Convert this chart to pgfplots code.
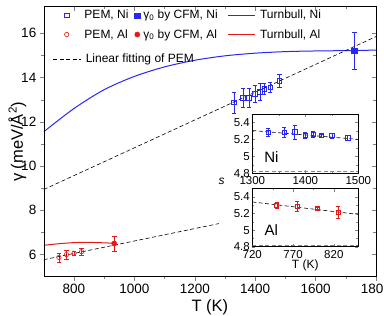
\documentclass[border=0pt]{standalone}
\usepackage{fontspec}
\setmainfont{Liberation Sans}
\usepackage{pgfplots}
\pgfplotsset{compat=1.18}

\definecolor{niblue}{RGB}{40,40,240}
\definecolor{alred}{RGB}{230,25,25}
\definecolor{refor}{RGB}{225,105,45}

\newcommand{\gap}[1]{\rule{#1}{0pt}}

\pgfplotsset{
  every axis/.append style={
    /pgf/number format/assume math mode=true,
    /pgf/number format/1000 sep={},
  },
  fitline/.style={black, line width=0.6pt, dash pattern=on 4pt off 2.5pt},
  curve/.style={line width=1pt},
}

% Turnbull estimates
\pgfplotstableread{
T     g
700   11.55
800   12.60
900   13.45
1000  14.05
1100  14.48
1200  14.78
1300  14.98
1400  15.10
1500  15.17
1600  15.20
1728  15.22
1800  15.24
}\turnNi
\pgfplotstableread{
T    g
700  6.42
750  6.49
800  6.54
850  6.55
900  6.53
933  6.51
}\turnAl
% PEM values in the main panel
\pgfplotstableread{
T     g      e
1330  12.88  0.47
1360  13.09  0.42
1380  13.09  0.44
1400  13.27  0.39
1415  13.36  0.37
1430  13.49  0.26
1450  13.56  0.23
1480  13.86  0.29
}\pemNi
\pgfplotstableread{
T    g     e
750  5.87  0.20
775  6.00  0.20
800  6.06  0.11
825  6.13  0.14
}\pemAl
% s values for the insets
\pgfplotstableread{
T     s      e
1330  5.285  0.045
1360  5.285  0.06
1380  5.288  0.085
1400  5.250  0.04
1415  5.260  0.035
1430  5.245  0.015
1450  5.245  0.03
1480  5.220  0.035
}\sNi
\pgfplotstableread{
T    s      e
750  5.300  0.035
775  5.292  0.06
800  5.268  0.012
825  5.215  0.07
}\sAl

\begin{document}
\begin{tikzpicture}
% main panel
\begin{axis}[
  name=main, at={(0,0)}, anchor=south west,
  scale only axis, width=332.2pt, height=270pt,
  xmin=700, xmax=1800, ymin=5, ymax=17.2,
  xtick={800,1000,...,1800}, minor x tick num=1,
  ytick={6,8,...,16}, minor y tick num=1,
  tick align=outside, xtick pos=left, ytick pos=left,
  major tick length=4pt, minor tick length=2.5pt,
  tick label style={font=\fontsize{13.5}{15}\selectfont},
  label style={font=\fontsize{16.5}{19}\selectfont},
  xlabel={T (K)}, ylabel={γ (meV/Å\textsuperscript{2})},
  xlabel style={yshift=1pt},
  ylabel style={yshift=-12pt},
  legend columns=3,
  legend cell align=left,
  legend style={draw=none, fill=none, inner sep=0pt,
    at={(0.0611,0.995)}, anchor=north west,
    font=\fontsize{12}{14}\selectfont,
    row sep=5pt,
    /tikz/every odd column/.append style={column sep=0pt},
    /tikz/every even column/.append style={column sep=0pt}},
]
\addplot[niblue, only marks, mark=square, mark size=2.4pt, mark options={line width=0.6pt}, forget plot,
  error bars/.cd, y dir=both, y explicit, error mark options={rotate=90, mark size=2.2pt}]
  table[x=T, y=g, y error=e] {\pemNi};
\addplot[niblue, only marks, mark=square*, mark size=2.6pt, forget plot,
  error bars/.cd, y dir=both, y explicit, error mark options={rotate=90, mark size=2.4pt}]
  coordinates {(1728,15.21) +- (0,0.82)};
\addplot[niblue, curve, smooth, forget plot] table[x=T, y=g] {\turnNi};
\addplot[alred, only marks, mark=o, mark size=2.2pt, mark options={line width=0.6pt}, forget plot,
  error bars/.cd, y dir=both, y explicit, error mark options={rotate=90, mark size=2.2pt}]
  table[x=T, y=g, y error=e] {\pemAl};
\addplot[alred, only marks, mark=*, mark size=2.6pt, forget plot,
  error bars/.cd, y dir=both, y explicit, error mark options={rotate=90, mark size=2.4pt}]
  coordinates {(933,6.50) +- (0,0.35)};
\addplot[alred, curve, smooth, forget plot] table[x=T, y=g] {\turnAl};
% linear fits of the PEM data
\addplot[fitline, forget plot] coordinates {(700,8.94) (1800,15.85)};
\addplot[fitline, forget plot] coordinates {(700,5.77) (1280,7.40)};

% legend, two rows of three
\addlegendimage{only marks, mark=square, mark size=2.4pt, mark options={line width=0.6pt}, draw=niblue}
\addlegendentry{\gap{13.4pt}PEM, Ni\gap{4.2pt}}
\addlegendimage{only marks, mark=square*, mark size=2.6pt, draw=niblue, fill=niblue}
\addlegendentry{\gap{1.5pt}γ\textsubscript{0} by CFM, Ni\gap{7.8pt}}
\addlegendimage{no markers, color=niblue, draw=niblue, line width=1.2pt, legend image post style={xscale=1.6}}
\addlegendentry{\gap{2.1pt}Turnbull, Ni}
\addlegendimage{only marks, mark=o, mark size=2.2pt, mark options={line width=0.6pt}, draw=alred}
\addlegendentry{\gap{13.4pt}PEM, Al\gap{4.2pt}}
\addlegendimage{only marks, mark=*, mark size=2.6pt, draw=alred, fill=alred}
\addlegendentry{\gap{1.5pt}γ\textsubscript{0} by CFM, Al\gap{7.8pt}}
\addlegendimage{no markers, color=alred, draw=alred, line width=1.2pt, legend image post style={xscale=1.6}}
\addlegendentry{\gap{2.1pt}Turnbull, Al}
\end{axis}

% mirrored inward ticks on top and right, and the legend row of the fits
\begin{axis}[
  at={(0,0)}, anchor=south west,
  scale only axis, width=332.2pt, height=270pt,
  xmin=700, xmax=1800, ymin=5, ymax=17.2,
  xtick={800,1000,...,1800}, minor x tick num=1,
  ytick={6,8,...,16}, minor y tick num=1,
  tick align=inside, xtick pos=right, ytick pos=right,
  major tick length=4pt, minor tick length=2.5pt,
  xticklabels={}, yticklabels={},
  legend cell align=left,
  legend style={draw=none, fill=none, inner sep=0pt,
    at={(0.0277,0.806)}, anchor=west,
    font=\fontsize{12}{14}\selectfont,
    /tikz/every odd column/.append style={column sep=0pt}},
]
\addlegendimage{fitline, legend image post style={xscale=1.6}}
\addlegendentry{\gap{2.7pt}Linear fitting of PEM}
\end{axis}

% inset: Ni
\begin{axis}[
  at={(208.5pt,103.6pt)}, anchor=south west,
  scale only axis, width=106pt, height=59pt,
  xmin=1300, xmax=1500, ymin=4.8, ymax=5.5,
  xtick={1300,1400,1500}, minor x tick num=1,
  ytick={4.8,5,5.2,5.4}, minor y tick num=1,
  tick align=inside, major tick length=3pt, minor tick length=1.8pt,
  axis background/.style={fill=white},
  tick label style={font=\fontsize{11.5}{13}\selectfont},
  yticklabel style={xshift=1pt},
  xticklabel style={yshift=0.5pt},
]
\addplot[refor, thick, dash pattern=on 4pt off 2.5pt] coordinates {(1300,4.82) (1500,4.82)};
\addplot[fitline] coordinates {(1300,5.305) (1500,5.20)};
\addplot[niblue, only marks, mark=square, mark size=2.2pt, mark options={line width=0.6pt},
  error bars/.cd, y dir=both, y explicit, error mark options={rotate=90, mark size=2pt}]
  table[x=T, y=s, y error=e] {\sNi};
\node[font=\fontsize{15}{17}\selectfont] at (rel axis cs:0.18,0.27) {Ni};
\end{axis}

% inset: Al
\begin{axis}[
  at={(208.5pt,30pt)}, anchor=south west,
  scale only axis, width=106pt, height=58pt,
  xmin=720, xmax=850, ymin=4.8, ymax=5.5,
  xtick={720,770,820}, minor x tick num=1,
  ytick={4.8,5,5.2,5.4}, minor y tick num=1,
  tick align=inside, major tick length=3pt, minor tick length=1.8pt,
  axis background/.style={fill=white},
  tick label style={font=\fontsize{11.5}{13}\selectfont},
  yticklabel style={xshift=1pt},
  xticklabel style={yshift=0pt},
  xlabel={T (K)},
  xlabel style={font=\fontsize{12}{13}\selectfont, yshift=5pt},
]
\addplot[refor, thick, dash pattern=on 4pt off 2.5pt] coordinates {(720,4.82) (850,4.82)};
\addplot[fitline] coordinates {(720,5.34) (850,5.19)};
\addplot[alred, only marks, mark=square, mark size=2pt, mark options={line width=0.6pt},
  error bars/.cd, y dir=both, y explicit, error mark options={rotate=90, mark size=2pt}]
  table[x=T, y=s, y error=e] {\sAl};
\node[font=\fontsize{15}{17}\selectfont] at (rel axis cs:0.18,0.28) {Al};
\end{axis}

\node[font=\itshape\fontsize{12}{13}\selectfont, inner sep=0pt] at (177.9pt,95pt) {s};

\pgfresetboundingbox
\useasboundingbox (-43.8pt,-39.3pt) rectangle (340.2pt,276.7pt);
\end{tikzpicture}
\end{document}
